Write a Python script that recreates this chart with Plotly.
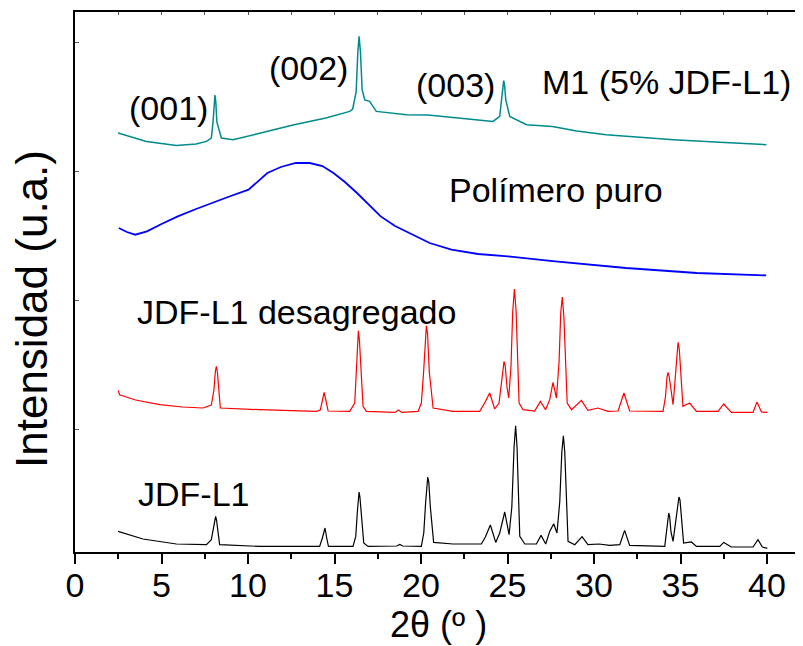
import plotly.graph_objects as go

# ---------------- data ----------------
# x: 2theta (degrees); y: intensity in arbitrary stacked units
m1_2theta = [2.49, 4.13, 5.86, 7.0, 7.6, 7.88, 7.98, 8.04, 8.09, 8.14, 8.2, 8.46, 9.13, 10.5,
             12.6, 14.5, 15.88, 16.05, 16.25, 16.35, 16.42, 16.5, 16.6, 16.75, 17.03, 17.42,
             19.16, 20.4, 22.0, 24.16, 24.55, 24.68, 24.74, 24.78, 24.83, 24.9, 25.13, 26.1,
             27.6, 29.0, 30.7, 32.5, 34.6, 37.0, 39.96]
m1_int = [419, 410.6, 406.6, 408, 410.6, 414, 430, 450, 457, 450, 430, 414, 412.3, 418,
          427, 434, 440.6, 443, 460, 500, 515.6, 500, 462, 452, 450.6, 440.6,
          437.3, 437, 434, 430.6, 435.6, 455, 467, 471.3, 467, 452, 435.6, 427.3,
          425.6, 421, 417.3, 415, 412.3, 410, 407.3]

poly_2theta = [2.53, 3.0, 3.48, 4.16, 5.0, 5.94, 7.0, 8.12, 9.0, 10.03, 10.6, 11.12, 11.9,
               12.76, 13.57, 14.3, 14.94, 15.6, 16.3, 17.0, 17.67, 18.5, 19.3, 20.5,
               21.76, 23.3, 25.03, 27.76, 31.85, 35.94, 39.95]
poly_int = [324, 320, 317.3, 320.6, 328, 335.6, 343, 350.6, 356, 362.3, 371, 379, 385,
            389, 389, 386, 379, 370, 359, 347, 335.6, 326, 319, 309,
            302.3, 298, 295.6, 290.6, 284, 279, 276.6]

desag_2theta = [2.49, 2.58, 3.5, 4.9, 6.2, 7.4, 7.88, 8.03, 8.11, 8.17, 8.23, 8.3, 8.4,
                10.68, 12.5, 13.95, 14.18, 14.3, 14.4, 14.5, 14.63, 15.88, 16.17, 16.26,
                16.32, 16.38, 16.44, 16.52, 16.65, 16.84, 18.5, 18.7, 18.9, 19.83, 20.02,
                20.15, 20.25, 20.31, 20.38, 20.48, 20.7, 21.85, 23.39, 23.68, 23.97, 24.26,
                24.51, 24.65, 24.74, 24.8, 24.87, 24.97, 25.07, 25.2, 25.3, 25.4, 25.5,
                25.58, 25.67, 25.9, 26.57, 26.9, 27.2, 27.44, 27.63, 27.83, 27.98, 28.08,
                28.17, 28.26, 28.35, 28.45, 28.7, 29.27, 29.65, 30.23, 30.81, 31.39, 31.73,
                32.06, 33.99, 34.13, 34.22, 34.28, 34.35, 34.45, 34.57, 34.7, 34.8, 34.86,
                34.93, 35.02, 35.14, 35.53, 35.92, 37.17, 37.5, 37.94, 39.19, 39.42, 39.68,
                40.02]
desag_int = [161.6, 157.3, 152, 147.3, 145, 144, 147, 162, 180, 185.6, 180, 162, 144,
             142.3, 141, 140.6, 142, 152, 159.6, 152, 141, 140.6, 149, 180,
             212, 221.3, 212, 180, 145.6, 140.6, 139.6, 142, 139.6, 140.6, 149,
             180, 218, 226.3, 218, 180, 144, 140.6, 140.6, 149, 159, 143,
             149, 170, 186, 190.6, 186, 165, 154, 185, 240, 263, 240,
             185, 149, 142.3, 141, 150.6, 142.3, 152.3, 169.6, 154, 190, 240,
             255, 235, 185, 149, 142.3, 151.6, 141.6, 144, 140.6, 141, 159,
             141, 140.6, 155, 175, 179.6, 175, 160, 147.3, 175, 203, 209.6,
             203, 175, 145.6, 149, 140.6, 140.6, 148, 139.6, 139.6, 150, 140,
             139.6]

jdf_2theta = [2.49, 3.93, 5.86, 7.6, 7.88, 8.0, 8.08, 8.13, 8.18, 8.25, 8.36, 10.68, 14.14,
              14.3, 14.45, 14.55, 14.65, 16.07, 16.23, 16.32, 16.38, 16.42, 16.47, 16.55,
              16.69, 16.94, 18.6, 18.77, 18.95, 20.02, 20.16, 20.27, 20.34, 20.39, 20.45,
              20.54, 20.73, 21.85, 23.49, 23.72, 24.01, 24.32, 24.55, 24.84, 25.09, 25.25,
              25.38, 25.47, 25.55, 25.63, 25.71, 26.0, 26.67, 26.94, 27.21, 27.44, 27.67,
              27.86, 28.02, 28.14, 28.23, 28.31, 28.41, 28.5, 28.89, 29.31, 29.65, 30.29,
              30.91, 31.49, 31.77, 32.06, 34.09, 34.2, 34.28, 34.32, 34.37, 34.45, 34.57,
              34.75, 34.85, 34.91, 34.97, 35.06, 35.18, 35.63, 35.92, 37.27, 37.5, 37.94,
              39.19, 39.48, 39.73, 40.02]
jdf_int = [20.6, 13, 8, 7.3, 12.3, 22, 32, 35.6, 32, 22, 7.3, 5.6, 5.6,
           14, 24, 14, 5.6, 5.6, 15.6, 40, 55, 60, 55, 35,
           9, 5.6, 6, 7.6, 6, 5.6, 19, 50, 70, 75, 70,
           45, 9.6, 8, 8, 15, 27, 9.6, 19, 40, 17.3, 45,
           105, 126.3, 105, 45, 15.6, 8, 8, 16.6, 8, 20.6, 28.3,
           19, 50, 100, 116.3, 100, 40, 10.6, 7.3, 15.3, 7.3, 8,
           6.6, 7.3, 21.6, 6.6, 5.6, 22, 37, 39, 36, 20, 10.6,
           35, 52, 55, 52, 30, 9, 10, 5.6, 5.6, 9.6, 5,
           5, 12.3, 5, 3.6]

x_tickvals = [0, 5, 10, 15, 20, 25, 30, 35, 40]
x_ticktext = ["0", "5", "10", "15", "20", "25", "30", "35", "40"]

FONT = "Liberation Sans, Arial, sans-serif"

fig = go.Figure()
fig.add_trace(go.Scatter(x=m1_2theta, y=m1_int, mode="lines",
                         line=dict(color="#008b8b", width=1.5), showlegend=False))
fig.add_trace(go.Scatter(x=poly_2theta, y=poly_int, mode="lines",
                         line=dict(color="#0000ff", width=1.8), showlegend=False))
fig.add_trace(go.Scatter(x=desag_2theta, y=desag_int, mode="lines",
                         line=dict(color="#ff0000", width=1.2), showlegend=False))
fig.add_trace(go.Scatter(x=jdf_2theta, y=jdf_int, mode="lines",
                         line=dict(color="#000000", width=1.2), showlegend=False))
# empty trace so the top (mirror) axis is drawn
fig.add_trace(go.Scatter(x=[], y=[], xaxis="x2", yaxis="y", showlegend=False))

XMAX = 728 / 17.3

# the page has an 8px body margin, so the figure is laid out 8px smaller
fig.update_layout(
    template="none",
    width=795, height=638,
    margin=dict(l=67, r=0, t=4, b=94, autoexpand=False),
    paper_bgcolor="white", plot_bgcolor="white",
    font=dict(family=FONT, size=34, color="black"),
    xaxis=dict(range=[0, XMAX], showgrid=False, zeroline=False, automargin=False,
               showline=True, linecolor="black", linewidth=2,
               ticks="outside", ticklen=10, tickwidth=2, tickcolor="black",
               tickvals=x_tickvals, ticktext=x_ticktext, ticklabelstandoff=-8,
               tickfont=dict(family=FONT, size=34),
               minor=dict(dtick=2.5, tick0=0, ticks="outside", ticklen=5,
                          tickwidth=2, tickcolor="black")),
    xaxis2=dict(range=[0, XMAX], overlaying="x", side="top", anchor="y",
                showgrid=False, zeroline=False, showline=True, automargin=False,
                linecolor="black", linewidth=2,
                ticks="inside", ticklen=3, tickwidth=1, tickcolor="#555",
                dtick=2.5, tick0=0, showticklabels=False),
    yaxis=dict(range=[0, 540], showgrid=False, zeroline=False, automargin=False,
               showline=True, linecolor="black", linewidth=2,
               ticks="inside", ticklen=4, tickwidth=1, tickcolor="#555",
               tick0=122.3, dtick=129, showticklabels=False),
)

# screen pixel -> paper coordinates (plot area spans screen x 75..803, y 12..552)
def sx(px):
    return (px - 75) / 728

def sy(py):
    return (552 - py) / 540

labels = [
    ("(001)", 168, 108),
    ("(002)", 308.5, 68),
    ("(003)", 455, 85),
    ("M1 (5% JDF-L1)", 666, 82),
    ("Polímero puro", 555.5, 190),
    ("JDF-L1 desagregado", 296, 312),
    ("JDF-L1", 193.5, 494),
]
for txt, px, py in labels:
    fig.add_annotation(x=sx(px), y=sy(py), xref="paper", yref="paper",
                       text=txt, showarrow=False, xanchor="center", yanchor="middle",
                       font=dict(family=FONT, size=34, color="black"))

# axis titles
fig.add_annotation(x=sx(438), y=sy(624), xref="paper", yref="paper", text="2θ (º )",
                   showarrow=False, xanchor="center", yanchor="middle",
                   font=dict(family=FONT, size=36, color="black"))
fig.add_annotation(x=sx(31), y=sy(309), xref="paper", yref="paper",
                   text="Intensidad (u.a.)", textangle=-90, showarrow=False,
                   xanchor="center", yanchor="middle",
                   font=dict(family=FONT, size=44, color="black"))

fig.write_html("out.html")
